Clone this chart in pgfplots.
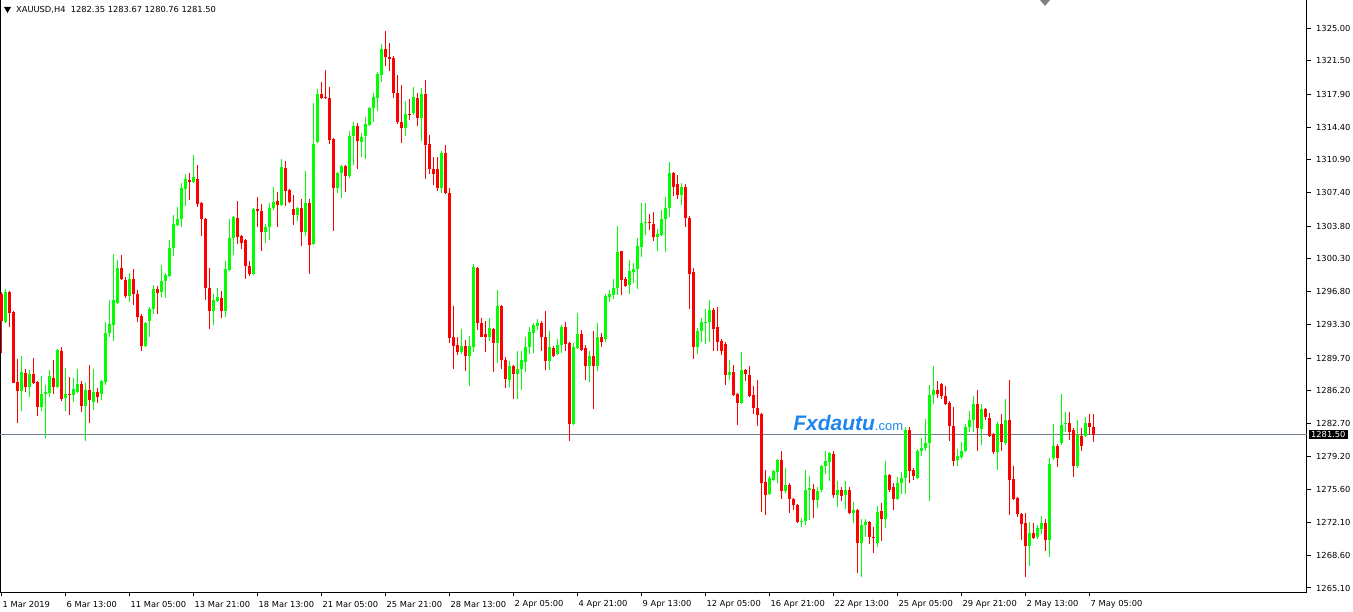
\documentclass[border=0pt]{standalone}
\usepackage{pgfplots}
\usepackage{pgfplotstable}
\pgfplotsset{compat=1.18}
\usepackage{fontspec}
\setmainfont{DejaVu Sans}
\newfontfamily\wmfont{Liberation Sans}
\definecolor{upcol}{RGB}{0,255,0}
\definecolor{downcol}{RGB}{255,0,0}
\definecolor{linecol}{RGB}{112,128,144}
\definecolor{wmblue}{RGB}{28,134,238}

\pgfplotstableread{
k o h l c
0 1296.6 1296.8 1290.2 1293.7
1 1293.6 1297.1 1293.4 1296.8
2 1296.8 1296.9 1293.0 1294.5
3 1294.6 1294.7 1287.0 1287.0
4 1287.1 1289.6 1282.7 1286.2
5 1286.2 1289.9 1284.0 1288.2
6 1288.1 1288.5 1286.1 1286.6
7 1286.6 1288.4 1285.5 1288.0
8 1288.0 1289.7 1286.9 1287.0
9 1287.1 1287.2 1283.5 1284.5
10 1284.5 1287.8 1284.0 1285.9
11 1285.9 1286.8 1281.1 1286.1
12 1286.0 1288.4 1285.5 1287.8
13 1287.6 1289.5 1285.9 1286.6
14 1286.6 1290.7 1286.5 1290.6
15 1290.5 1290.9 1285.1 1285.3
16 1285.4 1288.6 1284.0 1285.9
17 1285.9 1287.7 1283.6 1285.8
18 1285.7 1287.6 1285.0 1286.4
19 1286.1 1288.5 1286.0 1286.9
20 1286.9 1287.2 1283.9 1284.6
21 1284.6 1287.0 1280.8 1286.3
22 1286.3 1289.0 1282.8 1285.2
23 1285.0 1288.5 1284.1 1286.1
24 1286.1 1286.5 1284.9 1285.5
25 1285.9 1287.4 1285.2 1287.2
26 1287.1 1293.5 1286.8 1292.4
27 1292.4 1295.9 1291.9 1293.3
28 1293.2 1300.8 1291.5 1295.9
29 1295.6 1300.2 1295.5 1299.3
30 1299.3 1300.7 1298.0 1298.1
31 1298.0 1298.4 1296.1 1296.3
32 1296.3 1298.8 1295.7 1298.2
33 1298.2 1299.2 1295.4 1296.5
34 1296.6 1297.0 1293.5 1294.1
35 1294.2 1294.4 1290.4 1291.0
36 1291.0 1293.5 1290.9 1293.4
37 1293.7 1295.2 1292.0 1294.9
38 1294.9 1297.5 1294.4 1297.1
39 1297.1 1297.4 1294.4 1296.7
40 1296.8 1299.7 1296.2 1297.9
41 1297.9 1298.8 1296.1 1298.6
42 1298.5 1302.3 1298.4 1301.5
43 1301.5 1305.0 1300.6 1304.0
44 1303.9 1305.9 1303.8 1304.6
45 1304.6 1308.4 1303.7 1307.9
46 1307.8 1309.4 1306.0 1308.8
47 1308.7 1309.5 1306.6 1308.5
48 1308.5 1311.4 1308.4 1309.1
49 1308.9 1310.4 1305.9 1306.2
50 1306.3 1306.4 1302.7 1304.6
51 1304.6 1304.7 1295.9 1297.2
52 1297.2 1299.3 1292.8 1294.7
53 1294.7 1296.6 1293.2 1295.9
54 1295.8 1297.2 1295.7 1296.2
55 1296.1 1296.9 1294.0 1294.7
56 1294.7 1300.1 1294.1 1299.2
57 1299.1 1304.6 1299.0 1302.5
58 1302.5 1304.9 1300.7 1304.8
59 1304.7 1306.5 1301.9 1302.6
60 1302.7 1302.9 1301.4 1302.0
61 1302.3 1302.4 1298.2 1299.5
62 1299.5 1300.1 1298.5 1298.7
63 1298.7 1305.7 1298.6 1305.6
64 1305.6 1306.9 1303.7 1305.4
65 1305.4 1306.2 1301.1 1303.2
66 1303.2 1304.0 1302.0 1303.7
67 1303.7 1306.3 1302.3 1305.8
68 1305.7 1308.0 1305.5 1306.4
69 1306.5 1307.5 1303.7 1306.1
70 1306.1 1311.0 1306.0 1310.1
71 1310.0 1310.8 1306.0 1307.6
72 1307.7 1307.8 1306.3 1306.4
73 1305.6 1307.1 1303.9 1305.0
74 1305.0 1305.9 1304.4 1305.8
75 1305.8 1306.7 1301.7 1303.2
76 1303.2 1309.7 1302.7 1306.3
77 1306.3 1306.7 1298.7 1301.8
78 1301.9 1317.0 1301.8 1312.6
79 1312.8 1318.5 1312.7 1317.9
80 1317.9 1319.2 1317.4 1317.5
81 1317.6 1320.5 1317.4 1317.5
82 1317.5 1318.7 1312.6 1313.0
83 1313.1 1313.2 1303.3 1307.9
84 1307.9 1309.6 1307.3 1309.5
85 1309.5 1310.4 1306.8 1310.2
86 1310.2 1310.4 1307.5 1309.2
87 1309.2 1314.0 1309.0 1313.5
88 1313.5 1315.0 1310.3 1314.5
89 1314.5 1314.8 1309.9 1312.9
90 1312.8 1313.8 1311.2 1313.3
91 1313.5 1315.5 1311.0 1314.7
92 1314.6 1316.6 1314.5 1316.4
93 1316.4 1318.0 1315.0 1317.6
94 1317.5 1320.3 1316.1 1320.1
95 1320.0 1323.3 1319.2 1322.8
96 1322.8 1324.7 1320.9 1321.9
97 1321.9 1323.4 1320.4 1321.7
98 1321.8 1322.0 1317.5 1318.1
99 1318.1 1320.0 1314.7 1314.9
100 1315.0 1318.9 1312.7 1314.3
101 1314.3 1317.2 1313.4 1315.8
102 1315.8 1317.4 1315.2 1315.7
103 1315.9 1318.7 1315.7 1317.6
104 1317.5 1318.1 1314.5 1315.4
105 1315.4 1318.6 1312.9 1317.9
106 1317.9 1319.4 1308.9 1312.5
107 1312.6 1313.6 1309.4 1309.9
108 1309.9 1311.2 1308.2 1309.4
109 1309.9 1311.2 1307.6 1307.9
110 1307.9 1311.8 1307.3 1311.6
111 1311.6 1312.5 1307.2 1307.4
112 1307.4 1307.9 1291.3 1291.8
113 1291.9 1295.3 1288.5 1291.0
114 1291.1 1292.0 1290.0 1290.3
115 1290.3 1292.8 1290.1 1291.0
116 1291.0 1291.6 1288.3 1289.9
117 1289.9 1292.1 1286.7 1291.0
118 1290.9 1299.8 1290.3 1299.4
119 1299.3 1299.4 1292.7 1293.4
120 1293.4 1294.0 1291.9 1292.0
121 1292.3 1293.7 1290.3 1292.0
122 1292.0 1294.0 1291.5 1292.9
123 1292.8 1292.9 1288.2 1291.3
124 1291.3 1297.0 1289.2 1295.3
125 1295.3 1295.4 1288.5 1289.5
126 1289.5 1289.8 1286.5 1287.5
127 1287.3 1289.4 1286.6 1288.8
128 1288.8 1289.0 1285.3 1288.0
129 1288.0 1290.4 1285.3 1288.5
130 1288.5 1290.4 1286.3 1289.5
131 1289.3 1292.0 1288.2 1290.9
132 1290.9 1293.0 1290.1 1292.5
133 1292.4 1293.4 1290.2 1293.2
134 1293.1 1293.9 1292.7 1293.4
135 1293.4 1293.7 1290.5 1291.9
136 1292.0 1294.7 1288.4 1289.4
137 1289.4 1292.6 1288.4 1290.9
138 1290.8 1291.0 1289.8 1289.9
139 1290.1 1291.7 1290.0 1291.1
140 1291.1 1293.2 1290.2 1293.0
141 1293.0 1293.6 1290.5 1291.2
142 1291.3 1291.4 1280.8 1282.6
143 1282.6 1291.3 1282.5 1290.9
144 1290.8 1294.5 1290.7 1292.3
145 1292.3 1292.7 1290.5 1290.6
146 1290.8 1291.1 1287.4 1288.8
147 1288.8 1290.5 1287.1 1289.9
148 1289.9 1292.6 1284.3 1288.8
149 1288.8 1293.4 1288.3 1291.9
150 1291.9 1292.4 1290.9 1291.4
151 1291.7 1296.6 1291.4 1296.3
152 1296.2 1297.0 1295.7 1296.5
153 1296.4 1298.1 1296.0 1297.2
154 1297.2 1303.8 1296.4 1301.0
155 1301.1 1301.2 1296.4 1298.0
156 1298.1 1298.4 1297.3 1297.4
157 1297.5 1300.2 1296.5 1299.0
158 1298.9 1299.9 1297.7 1299.2
159 1299.2 1302.5 1297.1 1301.7
160 1301.6 1306.3 1300.5 1304.1
161 1304.1 1306.3 1302.9 1304.3
162 1304.3 1305.1 1303.4 1304.1
163 1304.0 1305.3 1302.2 1302.6
164 1302.6 1303.5 1301.2 1303.0
165 1302.9 1305.5 1302.7 1304.6
166 1304.6 1306.9 1301.0 1305.8
167 1305.8 1310.7 1304.8 1309.5
168 1309.5 1309.6 1307.0 1308.0
169 1308.3 1309.3 1306.7 1307.1
170 1307.1 1308.4 1306.1 1308.0
171 1308.0 1308.3 1303.7 1304.7
172 1304.7 1304.9 1294.9 1298.7
173 1298.9 1299.3 1289.6 1290.9
174 1290.9 1292.9 1290.1 1292.6
175 1292.6 1294.0 1291.4 1293.5
176 1293.5 1294.9 1291.2 1293.6
177 1293.6 1295.9 1291.4 1294.8
178 1294.8 1295.1 1290.5 1292.8
179 1293.0 1295.2 1290.4 1291.4
180 1291.5 1291.7 1290.0 1290.4
181 1291.2 1291.4 1286.8 1287.9
182 1287.9 1289.5 1287.3 1288.2
183 1288.2 1289.0 1285.6 1285.7
184 1285.8 1286.0 1282.5 1284.9
185 1284.9 1290.3 1284.8 1288.4
186 1288.4 1288.5 1287.2 1288.0
187 1287.9 1288.8 1285.5 1285.6
188 1285.7 1286.7 1283.7 1284.4
189 1284.4 1287.4 1282.4 1283.6
190 1283.7 1283.8 1273.2 1276.3
191 1276.4 1277.7 1272.9 1275.0
192 1275.2 1277.1 1275.0 1276.9
193 1276.7 1277.7 1276.5 1277.6
194 1277.5 1278.9 1276.3 1278.8
195 1278.8 1279.8 1274.6 1275.5
196 1275.5 1277.9 1275.3 1276.1
197 1276.1 1276.3 1273.1 1274.6
198 1274.6 1274.7 1273.4 1274.0
199 1274.0 1274.1 1272.1 1272.2
200 1272.2 1272.6 1271.6 1272.3
201 1272.3 1277.7 1271.8 1275.6
202 1275.6 1277.1 1272.4 1275.8
203 1275.7 1276.2 1272.6 1274.5
204 1274.5 1275.9 1273.7 1275.5
205 1275.6 1278.3 1275.4 1278.2
206 1278.2 1279.8 1277.3 1278.7
207 1278.6 1279.7 1276.5 1279.5
208 1279.4 1279.8 1274.7 1275.0
209 1275.0 1276.5 1273.8 1275.6
210 1275.6 1275.9 1274.4 1274.9
211 1275.0 1276.5 1273.6 1275.6
212 1275.6 1275.9 1273.0 1273.1
213 1273.1 1274.3 1272.1 1273.4
214 1273.4 1273.6 1266.7 1269.9
215 1269.9 1272.5 1266.3 1271.8
216 1271.8 1272.5 1270.6 1272.2
217 1272.2 1272.3 1269.8 1270.6
218 1270.6 1271.6 1268.8 1270.4
219 1269.9 1273.9 1269.5 1273.2
220 1273.3 1274.2 1270.1 1272.5
221 1272.5 1278.7 1271.5 1277.2
222 1277.2 1277.3 1275.4 1275.6
223 1275.9 1276.3 1273.4 1274.6
224 1274.6 1277.0 1274.5 1276.3
225 1276.3 1277.5 1275.2 1276.9
226 1276.9 1282.3 1275.2 1282.0
227 1282.0 1282.3 1276.3 1277.6
228 1277.7 1277.9 1276.6 1277.1
229 1276.9 1280.0 1276.8 1279.8
230 1279.8 1281.1 1279.2 1280.1
231 1280.1 1283.2 1279.8 1280.6
232 1280.6 1286.8 1274.4 1285.7
233 1285.7 1288.8 1284.8 1286.3
234 1286.3 1287.2 1285.4 1285.8
235 1286.9 1287.0 1285.3 1285.6
236 1285.6 1286.7 1284.7 1284.8
237 1284.9 1285.1 1280.8 1282.4
238 1282.4 1284.5 1278.2 1278.7
239 1278.8 1280.0 1278.1 1279.2
240 1279.1 1280.7 1278.9 1279.8
241 1279.8 1282.6 1279.7 1282.3
242 1282.3 1284.0 1281.8 1283.1
243 1283.1 1285.6 1281.8 1284.8
244 1284.8 1286.3 1279.8 1282.2
245 1282.1 1284.8 1280.4 1284.2
246 1284.2 1284.4 1283.1 1283.4
247 1283.3 1283.8 1281.3 1281.4
248 1281.6 1281.7 1279.4 1279.7
249 1279.7 1282.9 1277.7 1282.6
250 1282.6 1283.7 1279.8 1280.7
251 1280.6 1285.3 1280.4 1283.1
252 1283.1 1287.3 1272.9 1276.6
253 1276.8 1278.1 1274.5 1274.6
254 1274.7 1274.8 1272.7 1273.0
255 1273.0 1273.1 1270.2 1271.9
256 1272.0 1273.1 1266.3 1269.6
257 1269.6 1272.2 1267.4 1271.0
258 1271.0 1272.1 1270.3 1270.4
259 1270.6 1271.8 1270.3 1271.5
260 1271.4 1272.8 1270.9 1272.0
261 1272.0 1272.5 1269.1 1270.2
262 1270.2 1279.0 1268.4 1278.4
263 1279.0 1282.6 1278.8 1280.3
264 1280.3 1280.5 1278.0 1279.0
265 1280.6 1285.8 1280.4 1282.5
266 1282.6 1283.9 1281.8 1282.8
267 1282.8 1283.9 1280.9 1281.8
268 1282.0 1282.2 1277.0 1278.2
269 1278.2 1283.1 1277.9 1281.5
270 1281.4 1282.2 1279.8 1280.3
271 1281.4 1283.4 1281.3 1282.8
272 1282.8 1283.7 1281.5 1282.3
273 1282.35 1283.67 1280.76 1281.50
}\candles
\pgfplotstablegetrowsof{\candles}
\pgfmathtruncatemacro\lastrow{\pgfplotsretval-1}

\begin{document}
\begin{tikzpicture}
\begin{axis}[
  at={(0pt,19pt)}, anchor=south west,
  width=1307pt, height=592pt, scale only axis,
  xmin=-0.375, xmax=326.375,
  ymin=1264.67, ymax=1328.0,
  clip mode=individual,
  axis line style={black, line width=1pt},
  tick align=outside, major tick length=4pt,
  tick style={black, line width=1pt},
  xtick pos=bottom, ytick pos=right, yticklabel pos=right,
  xtick={0,16,32,48,64,80,96,112,128,144,160,176,192,208,224,240,256,272},
  xticklabels={1 Mar 2019,6 Mar 13:00,11 Mar 05:00,13 Mar 21:00,18 Mar 13:00,21 Mar 05:00,25 Mar 21:00,28 Mar 13:00,2 Apr 05:00,4 Apr 21:00,9 Apr 13:00,12 Apr 05:00,16 Apr 21:00,22 Apr 13:00,25 Apr 05:00,29 Apr 21:00,2 May 13:00,7 May 05:00},
  ytick={1265.10,1268.60,1272.10,1275.60,1279.20,1282.70,1286.20,1289.70,1293.30,1296.80,1300.30,1303.80,1307.40,1310.90,1314.40,1317.90,1321.50,1325.00},
  yticklabels={1265.10,1268.60,1272.10,1275.60,1279.20,1282.70,1286.20,1289.70,1293.30,1296.80,1300.30,1303.80,1307.40,1310.90,1314.40,1317.90,1321.50,1325.00},
  /pgf/number format/assume math mode=true,
  ticklabel style={font=\fontsize{8.3}{10}\selectfont, text=black},
  xticklabel style={anchor=west, inner sep=0pt, xshift=1pt, yshift=-8pt},
  yticklabel style={anchor=west, inner sep=0pt, xshift=5pt},
]
% current price line
\addplot[linecol, line width=1pt, mark=none, forget plot] coordinates {(-0.375,1281.5) (326.375,1281.5)};
% candles: wick (low-high) and body (open-close), one pair per table row
\pgfplotsforeachungrouped \i in {0,...,\lastrow}{%
  \pgfplotstablegetelem{\i}{k}\of\candles \let\vk\pgfplotsretval
  \pgfplotstablegetelem{\i}{o}\of\candles \let\vo\pgfplotsretval
  \pgfplotstablegetelem{\i}{h}\of\candles \let\vh\pgfplotsretval
  \pgfplotstablegetelem{\i}{l}\of\candles \let\vl\pgfplotsretval
  \pgfplotstablegetelem{\i}{c}\of\candles \let\vc\pgfplotsretval
  \ifdim\vc pt<\vo pt \def\ccol{downcol}\else\def\ccol{upcol}\fi
  \pgfmathsetmacro\vb{min(\vo,\vc)}%
  \pgfmathsetmacro\vt{max(max(\vo,\vc),\vb+0.1)}%
  \edef\next{%
    \noexpand\addplot[\ccol, line width=1pt, mark=none, forget plot] coordinates {(\vk,\vl) (\vk,\vh)};%
    \noexpand\addplot[\ccol, line width=3pt, line cap=butt, mark=none, forget plot] coordinates {(\vk,\vb) (\vk,\vt)};%
  }%
  \next
}
% watermark
\node[anchor=base west, inner sep=0pt, text=wmblue] at (axis cs:197.9,1282.0)
  {\wmfont{\fontsize{21}{24}\selectfont\bfseries\itshape Fxdautu}{\fontsize{13}{15}\selectfont .com}};
% price tag
\node[anchor=west, fill=black, text=white, inner xsep=2pt, inner ysep=1.5pt,
  font=\fontsize{8.3}{10}\selectfont, xshift=2pt] at (axis cs:326.375,1281.5) {1281.50};
\end{axis}
% header
\fill[black] (4pt,604pt) -- (11pt,604pt) -- (7.5pt,598pt) -- cycle;
\node[anchor=west, inner sep=0pt, font=\fontsize{8.3}{10}\selectfont] at (16pt,601pt)
  {XAUUSD,H4\ \ 1282.35 1283.67 1280.76 1281.50};
\fill[gray] (1040pt,611pt) -- (1050pt,611pt) -- (1045pt,605pt) -- cycle;
\pgfresetboundingbox
\path[use as bounding box] (0pt,0pt) rectangle (1353pt,611pt);
\end{tikzpicture}
\end{document}
